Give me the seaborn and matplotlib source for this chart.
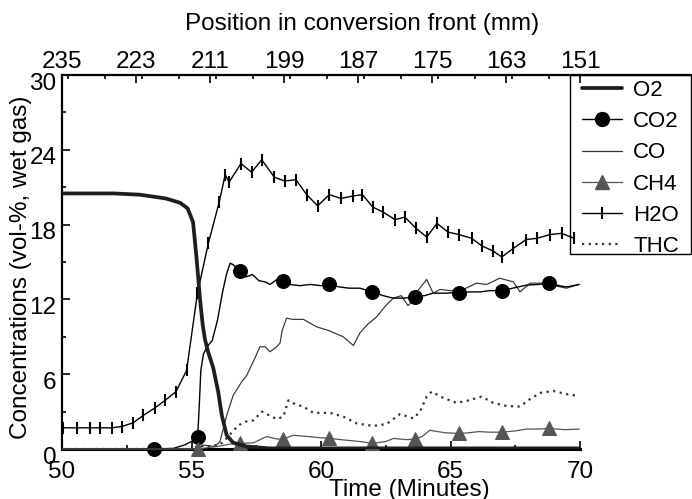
import matplotlib
matplotlib.use("Agg")
import matplotlib.pyplot as plt
import matplotlib.transforms as mtransforms
from matplotlib.lines import Line2D
from matplotlib.patches import Rectangle
from matplotlib.ticker import MultipleLocator, FixedLocator
import seaborn as sns

# ---------------- data ----------------
o2_t = [50.0, 51.0, 52.0, 53.0, 54.0, 54.56, 54.85, 55.06, 55.2, 55.33, 55.43, 55.52,
        55.64, 55.84, 56.03, 56.17, 56.36, 56.61, 57.13, 58.0, 70.0]
o2_v = [20.5, 20.5, 20.5, 20.4, 20.1, 19.75, 19.3, 18.2, 15.2, 12.0, 10.0, 8.8,
        7.8, 6.5, 4.6, 2.7, 1.1, 0.5, 0.2, 0.05, 0.05]

co2_t = [50.0, 53.55, 54.3, 54.7, 55.0, 55.24, 55.3, 55.36, 55.46, 55.6, 55.8, 56.0,
         56.2, 56.35, 56.49, 56.6, 56.87, 57.1, 57.35, 57.6, 57.85, 58.03, 58.3, 58.55,
         58.8, 59.19, 59.6, 60.0, 60.32, 60.7, 61.1, 61.5, 61.98, 62.4, 62.79, 63.2,
         63.63, 64.0, 64.33, 64.8, 65.31, 65.7, 66.14, 66.5, 66.98, 67.4, 67.94, 68.4,
         68.81, 69.2, 69.48, 69.97]
co2_v = [0.0, 0.0, 0.05, 0.3, 0.6, 1.0, 3.5, 6.3, 7.6, 8.2, 8.7, 10.3,
         12.6, 14.0, 14.9, 14.8, 14.3, 13.8, 14.0, 13.5, 13.4, 13.2, 13.6, 13.5,
         13.2, 13.1, 13.2, 13.1, 13.2, 13.0, 12.9, 12.9, 12.6, 12.3, 12.1, 12.1,
         12.2, 12.3, 12.5, 12.5, 12.55, 12.6, 12.6, 12.7, 12.7, 12.9, 13.15, 13.2,
         13.3, 13.1, 13.0, 13.2]
co2_marks = [53.55, 55.24, 56.87, 58.55, 60.32, 61.98, 63.63, 65.31, 66.98, 68.81]

co_t = [50.0, 55.2, 55.5, 55.9, 56.1, 56.36, 56.61, 56.94, 57.13, 57.45, 57.64, 57.84,
        58.03, 58.29, 58.42, 58.5, 58.67, 58.9, 59.32, 59.83, 60.3, 60.86, 61.25, 61.5,
        61.8, 62.15, 62.5, 62.79, 63.1, 63.36, 63.5, 63.7, 64.08, 64.33, 64.6, 65.0,
        65.5, 66.0, 66.4, 66.9, 67.43, 67.68, 68.07, 68.58, 69.0, 69.48, 69.96]
co_v = [0.0, 0.0, 0.3, 0.2, 0.6, 2.7, 4.3, 5.4, 5.9, 7.3, 8.2, 8.2,
        7.8, 8.2, 8.5, 9.5, 10.5, 10.4, 10.4, 9.8, 9.5, 9.0, 8.3, 9.3,
        10.0, 10.6, 11.5, 12.1, 12.3, 11.5, 11.8, 12.6, 13.6, 12.5, 12.8, 12.7,
        12.8, 13.3, 13.2, 13.7, 13.4, 12.6, 13.3, 13.3, 13.1, 12.9, 13.2]

ch4_t = [50.0, 55.24, 55.6, 56.0, 56.5, 56.87, 57.4, 57.9, 58.3, 58.55, 58.93, 59.5,
         60.0, 60.32, 61.0, 61.5, 61.98, 62.5, 62.8, 63.3, 63.63, 63.9, 64.2, 64.8,
         65.31, 65.7, 66.1, 66.5, 66.98, 67.5, 67.94, 68.4, 68.81, 69.4, 69.97]
ch4_v = [0.0, 0.0, 0.1, 0.2, 0.4, 0.45, 0.5, 1.0, 0.8, 0.8, 1.1, 1.0,
         0.9, 0.85, 0.7, 0.6, 0.45, 0.6, 0.85, 0.75, 0.8, 1.0, 1.5, 1.3,
         1.25, 1.3, 1.4, 1.35, 1.35, 1.45, 1.6, 1.6, 1.65, 1.55, 1.6]
ch4_marks = [55.24, 56.87, 58.55, 60.32, 61.98, 63.63, 65.31, 66.98, 68.81]

h2o_t = [50.05, 50.57, 51.08, 51.47, 51.92, 52.3, 52.75, 53.14, 53.59, 53.98, 54.4, 54.81,
         55.23, 55.65, 56.07, 56.3, 56.45, 56.91, 57.32, 57.71, 58.2, 58.6, 59.03, 59.45,
         59.87, 60.32, 60.77, 61.25, 61.6, 62.0, 62.4, 62.86, 63.24, 63.67, 64.08, 64.48,
         64.9, 65.33, 65.82, 66.2, 66.63, 66.98, 67.43, 67.92, 68.34, 68.84, 69.29, 69.77]
h2o_v = [1.7, 1.7, 1.7, 1.7, 1.7, 1.8, 2.1, 2.7, 3.3, 3.9, 4.6, 6.3,
         12.5, 16.5, 19.8, 22.0, 21.4, 22.9, 22.2, 23.2, 21.8, 21.5, 21.6, 20.4,
         19.5, 20.4, 20.1, 20.3, 20.4, 19.4, 19.0, 18.4, 18.6, 17.7, 17.0, 18.1,
         17.4, 17.2, 16.9, 16.3, 15.9, 15.4, 16.1, 16.8, 16.9, 17.2, 17.3, 16.9]

thc_t = [50.0, 55.0, 55.3, 55.8, 56.2, 56.5, 56.81, 57.1, 57.4, 57.71, 58.0, 58.29,
         58.55, 58.74, 59.0, 59.32, 59.7, 60.35, 60.86, 61.38, 62.02, 62.53, 63.05, 63.57,
         63.82, 64.08, 64.27, 64.72, 65.24, 65.7, 66.2, 66.65, 67.17, 67.68, 68.07, 68.46,
         68.97, 69.48, 69.97]
thc_v = [0.0, 0.0, 0.3, 0.2, 0.5, 1.2, 1.9, 2.2, 2.3, 3.0, 2.7, 2.4,
         2.6, 3.9, 3.6, 3.4, 2.9, 2.9, 2.6, 2.05, 1.85, 2.0, 2.8, 2.45,
         3.0, 4.2, 4.6, 4.1, 3.7, 3.9, 4.2, 3.7, 3.45, 3.4, 4.0, 4.5,
         4.65, 4.4, 4.25]

x_ticks = [50, 55, 60, 65, 70]
y_ticks = [0, 6, 12, 18, 24, 30]
top_ticks = [235, 223, 211, 199, 187, 175, 163, 151]
series_labels = ["O2", "CO2", "CO", "CH4", "H2O", "THC"]

# ---------------- style ----------------
sns.set_theme(style="white")
plt.rcParams["font.family"] = ["Liberation Sans", "DejaVu Sans"]
for k in ["text.color", "axes.labelcolor", "xtick.color", "ytick.color", "axes.edgecolor"]:
    plt.rcParams[k] = "black"

FS = 17.5
W, H = 692, 499
fig = plt.figure(figsize=(W / 100, H / 100), dpi=100)
L, R, T, B = 62, 580, 75, 449
ax = fig.add_axes([L / W, 1 - B / H, (R - L) / W, (B - T) / H])

c_o2, c_co2, c_co, c_ch4, c_h2o, c_thc = "#1e1e1e", "black", "#333333", "#555555", "black", "#333333"

sns.lineplot(x=o2_t, y=o2_v, ax=ax, color=c_o2, lw=2.7, sort=False, estimator=None, zorder=5)
sns.lineplot(x=co2_t, y=co2_v, ax=ax, color=c_co2, lw=1.0, sort=False, estimator=None,
             marker="o", ms=10, mec=c_co2, mfc=c_co2, clip_on=False,
             markevery=[co2_t.index(t) for t in co2_marks], zorder=4)
sns.lineplot(x=co_t, y=co_v, ax=ax, color=c_co, lw=0.85, sort=False, estimator=None, zorder=3)
sns.lineplot(x=ch4_t, y=ch4_v, ax=ax, color=c_ch4, lw=0.9, sort=False, estimator=None,
             marker="^", ms=10, mec=c_ch4, mfc=c_ch4, clip_on=False,
             markevery=[ch4_t.index(t) for t in ch4_marks], zorder=4)
sns.lineplot(x=h2o_t, y=h2o_v, ax=ax, color=c_h2o, lw=1.0, sort=False, estimator=None,
             marker="|", ms=9, mew=1.5, mec=c_h2o, zorder=4)
sns.lineplot(x=thc_t, y=thc_v, ax=ax, color=c_thc, lw=1.6, ls=(0, (1, 2)), sort=False,
             estimator=None, zorder=3)

ax.set_xlim(50, 70)
ax.set_ylim(0, 30)
ax.xaxis.set_major_locator(FixedLocator(x_ticks))
ax.xaxis.set_minor_locator(MultipleLocator(2.5))
ax.yaxis.set_major_locator(FixedLocator(y_ticks))
ax.yaxis.set_minor_locator(MultipleLocator(3))
ax.tick_params(axis="both", which="both", direction="in", bottom=True, left=True,
               top=False, right=False, labelsize=FS, width=1.2)
ax.tick_params(axis="both", which="major", length=6)
ax.tick_params(axis="both", which="minor", length=3)
ax.tick_params(axis="x", which="major", pad=9)
ax.tick_params(axis="y", which="major", pad=4)
ax.spines["right"].set_visible(False)
ax.spines["top"].set_visible(False)
ax.spines["left"].set_linewidth(1.6)
ax.spines["bottom"].set_linewidth(2.2)
ax.grid(False)

# shift y tick labels slightly below their ticks, like the reference
off = mtransforms.ScaledTranslation(0, -0.06, fig.dpi_scale_trans)
for lbl in ax.get_yticklabels():
    lbl.set_transform(lbl.get_transform() + off)

ax.set_xlabel("Time (Minutes)", fontsize=FS, va="center")
ax.xaxis.set_label_coords((409 - L) / (R - L), -(490 - B) / (B - T))
ax.set_ylabel("Concentrations (vol-%, wet gas)", fontsize=FS, va="center")
ax.yaxis.set_label_coords((21 - L) / (R - L), (B - 267) / (B - T))

# top axis: position in conversion front
ax2 = ax.twiny()
ax2.set_xlim(235, 151)
ax2.xaxis.set_major_locator(FixedLocator(top_ticks))
ax2.xaxis.set_minor_locator(MultipleLocator(6))
ax2.tick_params(axis="x", which="both", direction="in", top=True, bottom=False,
                labelsize=FS, width=1.2, pad=1.5)
ax2.tick_params(axis="x", which="major", length=6)
ax2.tick_params(axis="x", which="minor", length=3)
for s in ["left", "right", "bottom"]:
    ax2.spines[s].set_visible(False)
ax2.spines["top"].set_linewidth(1.6)
ax2.grid(False)
ax2.set_xlabel("Position in conversion front (mm)", fontsize=FS, va="center")
ax2.xaxis.set_label_coords((362 - L) / (R - L), (B - 24) / (B - T))

# legend
handles = [
    Line2D([], [], color=c_o2, lw=2.7),
    Line2D([], [], color=c_co2, lw=1.0, marker="o", ms=10, mfc=c_co2, mec=c_co2),
    Line2D([], [], color=c_co, lw=0.9),
    Line2D([], [], color=c_ch4, lw=0.9, marker="^", ms=10, mfc=c_ch4, mec=c_ch4),
    Line2D([], [], color=c_h2o, lw=1.0, marker="|", ms=9, mew=1.5, mec=c_h2o),
    Line2D([], [], color=c_thc, lw=1.6, ls=(0, (1, 2))),
]
leg = fig.legend(handles, series_labels, loc="upper left",
                 bbox_to_anchor=(582 / W, 1 - 80 / H), bbox_transform=fig.transFigure,
                 frameon=False, fontsize=16, borderpad=0, borderaxespad=0,
                 handlelength=1.8, handletextpad=0.5, labelspacing=0.46, numpoints=1)
fig.add_artist(Rectangle((570 / W, 1 - 254 / H), (691 - 570) / W, (254 - 75) / H,
                         transform=fig.transFigure, fill=False, ec="black", lw=1.0))
fig.add_artist(Line2D([R / W, 1.0], [1 - T / H, 1 - T / H], transform=fig.transFigure,
                      color="black", lw=1.6))

fig.savefig("out.png", dpi=100)
